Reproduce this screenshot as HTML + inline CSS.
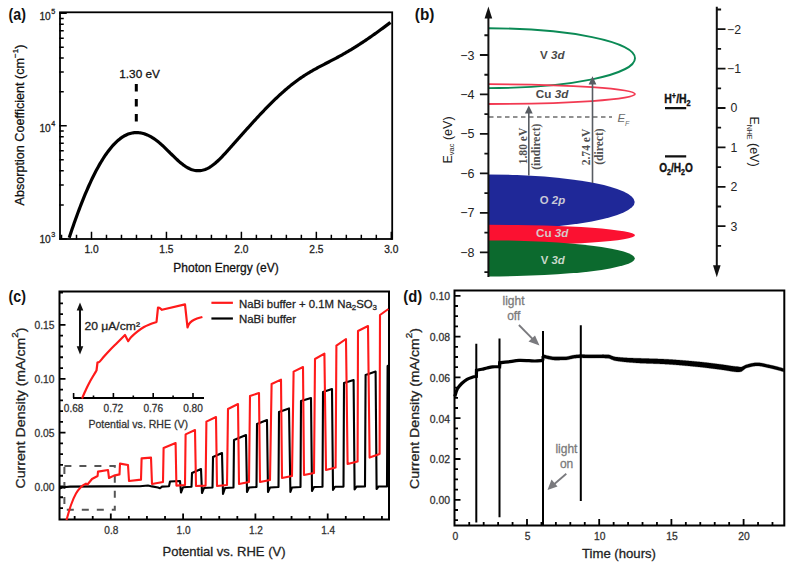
<!DOCTYPE html><html><head><meta charset="utf-8"><style>html,body{margin:0;padding:0;background:#fff;width:790px;height:565px;overflow:hidden}svg{display:block}</style></head><body>
<svg width="790" height="565" viewBox="0 0 790 565" font-family="Liberation Sans, sans-serif">
<rect width="790" height="565" fill="#fff"/>
<g stroke="#000" fill="none" stroke-linecap="square">
<rect x="60" y="12.3" width="332.2" height="226.7" stroke-width="1.8"/>
<path d="M61.52,239 V235.5 M76.51,239 V235.5 M91.5,239 V232.5 M106.49,239 V235.5 M121.48,239 V235.5 M136.47,239 V235.5 M151.46,239 V235.5 M166.45,239 V232.5 M181.44,239 V235.5 M196.43,239 V235.5 M211.42,239 V235.5 M226.41,239 V235.5 M241.4,239 V232.5 M256.39,239 V235.5 M271.38,239 V235.5 M286.37,239 V235.5 M301.36,239 V235.5 M316.35,239 V232.5 M331.34,239 V235.5 M346.33,239 V235.5 M361.32,239 V235.5 M376.31,239 V235.5 M391.3,239 V232.5 M60,239 H66 M60,204.89 H63 M60,184.94 H63 M60,170.79 H63 M60,159.81 H63 M60,150.84 H63 M60,143.25 H63 M60,136.68 H63 M60,130.88 H63 M60,125.7 H66 M60,91.86 H63 M60,72.07 H63 M60,58.03 H63 M60,47.14 H63 M60,38.24 H63 M60,30.71 H63 M60,24.19 H63 M60,18.44 H63 M60,13.3 H66" stroke-width="1.5"/>
</g>
<path d="M69.2,237.81 L70.2,234.79 L71.2,231.81 L72.2,228.86 L73.2,225.96 L74.2,223.09 L75.2,220.26 L76.2,217.47 L77.2,214.72 L78.2,212.02 L79.2,209.35 L80.2,206.72 L81.2,204.14 L82.2,201.6 L83.2,199.1 L84.2,196.64 L85.2,194.23 L86.2,191.86 L87.2,189.53 L88.2,187.25 L89.2,185.01 L90.2,182.81 L91.2,180.66 L92.2,178.56 L93.2,176.5 L94.2,174.49 L95.2,172.53 L96.2,170.61 L97.2,168.74 L98.2,166.91 L99.2,165.13 L100.2,163.4 L101.2,161.71 L102.2,160.07 L103.2,158.48 L104.2,156.94 L105.2,155.44 L106.2,153.99 L107.2,152.58 L108.2,151.22 L109.2,149.91 L110.2,148.65 L111.2,147.44 L112.2,146.27 L113.2,145.15 L114.2,144.07 L115.2,143.05 L116.2,142.07 L117.2,141.14 L118.2,140.26 L119.2,139.43 L120.2,138.64 L121.2,137.91 L122.2,137.22 L123.2,136.58 L124.2,135.98 L125.2,135.44 L126.2,134.95 L127.2,134.5 L128.2,134.1 L129.2,133.75 L130.2,133.44 L131.2,133.19 L132.2,132.97 L133.2,132.8 L134.2,132.68 L135.2,132.6 L136.2,132.57 L137.2,132.58 L138.2,132.63 L139.2,132.72 L140.2,132.85 L141.2,133.03 L142.2,133.24 L143.2,133.5 L144.2,133.8 L145.2,134.13 L146.2,134.5 L147.2,134.91 L148.2,135.36 L149.2,135.85 L150.2,136.37 L151.2,136.92 L152.2,137.52 L153.2,138.14 L154.2,138.8 L155.2,139.5 L156.2,140.23 L157.2,140.99 L158.2,141.78 L159.2,142.61 L160.2,143.46 L161.2,144.34 L162.2,145.25 L163.2,146.17 L164.2,147.12 L165.2,148.07 L166.2,149.05 L167.2,150.03 L168.2,151.02 L169.2,152.01 L170.2,153.01 L171.2,154 L172.2,154.99 L173.2,155.97 L174.2,156.95 L175.2,157.91 L176.2,158.86 L177.2,159.79 L178.2,160.7 L179.2,161.58 L180.2,162.44 L181.2,163.27 L182.2,164.07 L183.2,164.84 L184.2,165.56 L185.2,166.25 L186.2,166.9 L187.2,167.5 L188.2,168.05 L189.2,168.55 L190.2,169 L191.2,169.39 L192.2,169.74 L193.2,170.03 L194.2,170.27 L195.2,170.46 L196.2,170.6 L197.2,170.68 L198.2,170.71 L199.2,170.69 L200.2,170.61 L201.2,170.48 L202.2,170.3 L203.2,170.06 L204.2,169.78 L205.2,169.43 L206.2,169.04 L207.2,168.59 L208.2,168.08 L209.2,167.53 L210.2,166.92 L211.2,166.26 L212.2,165.56 L213.2,164.81 L214.2,164.02 L215.2,163.2 L216.2,162.33 L217.2,161.44 L218.2,160.51 L219.2,159.55 L220.2,158.56 L221.2,157.56 L222.2,156.52 L223.2,155.47 L224.2,154.41 L225.2,153.33 L226.2,152.23 L227.2,151.13 L228.2,150.02 L229.2,148.9 L230.2,147.78 L231.2,146.66 L232.2,145.54 L233.2,144.42 L234.2,143.29 L235.2,142.17 L236.2,141.04 L237.2,139.92 L238.2,138.79 L239.2,137.66 L240.2,136.53 L241.2,135.41 L242.2,134.28 L243.2,133.16 L244.2,132.03 L245.2,130.91 L246.2,129.79 L247.2,128.68 L248.2,127.56 L249.2,126.45 L250.2,125.34 L251.2,124.23 L252.2,123.13 L253.2,122.03 L254.2,120.93 L255.2,119.84 L256.2,118.75 L257.2,117.67 L258.2,116.59 L259.2,115.52 L260.2,114.45 L261.2,113.39 L262.2,112.33 L263.2,111.28 L264.2,110.24 L265.2,109.2 L266.2,108.17 L267.2,107.15 L268.2,106.13 L269.2,105.12 L270.2,104.12 L271.2,103.12 L272.2,102.13 L273.2,101.16 L274.2,100.18 L275.2,99.22 L276.2,98.27 L277.2,97.32 L278.2,96.38 L279.2,95.45 L280.2,94.53 L281.2,93.62 L282.2,92.72 L283.2,91.83 L284.2,90.95 L285.2,90.08 L286.2,89.22 L287.2,88.36 L288.2,87.52 L289.2,86.69 L290.2,85.87 L291.2,85.07 L292.2,84.27 L293.2,83.49 L294.2,82.71 L295.2,81.95 L296.2,81.2 L297.2,80.46 L298.2,79.74 L299.2,79.03 L300.2,78.33 L301.2,77.64 L302.2,76.96 L303.2,76.3 L304.2,75.65 L305.2,75.01 L306.2,74.38 L307.2,73.76 L308.2,73.15 L309.2,72.54 L310.2,71.95 L311.2,71.37 L312.2,70.79 L313.2,70.22 L314.2,69.65 L315.2,69.1 L316.2,68.55 L317.2,68 L318.2,67.46 L319.2,66.92 L320.2,66.39 L321.2,65.86 L322.2,65.34 L323.2,64.82 L324.2,64.3 L325.2,63.78 L326.2,63.26 L327.2,62.74 L328.2,62.23 L329.2,61.71 L330.2,61.19 L331.2,60.67 L332.2,60.16 L333.2,59.63 L334.2,59.11 L335.2,58.58 L336.2,58.05 L337.2,57.52 L338.2,56.98 L339.2,56.44 L340.2,55.89 L341.2,55.34 L342.2,54.78 L343.2,54.22 L344.2,53.65 L345.2,53.07 L346.2,52.49 L347.2,51.91 L348.2,51.32 L349.2,50.72 L350.2,50.12 L351.2,49.52 L352.2,48.91 L353.2,48.29 L354.2,47.67 L355.2,47.05 L356.2,46.42 L357.2,45.79 L358.2,45.15 L359.2,44.51 L360.2,43.86 L361.2,43.21 L362.2,42.55 L363.2,41.89 L364.2,41.23 L365.2,40.56 L366.2,39.88 L367.2,39.21 L368.2,38.52 L369.2,37.84 L370.2,37.15 L371.2,36.46 L372.2,35.76 L373.2,35.06 L374.2,34.35 L375.2,33.65 L376.2,32.93 L377.2,32.22 L378.2,31.5 L379.2,30.78 L380.2,30.05 L381.2,29.32 L382.2,28.59 L383.2,27.85 L384.2,27.11 L385.2,26.37 L386.2,25.63 L387.2,24.88 L388.2,24.13 L389.2,23.38 L390.2,22.63 L390.5,22.4" fill="none" stroke="#000" stroke-width="3.2" stroke-linejoin="round"/>
<path d="M136.3,84 V122" stroke="#000" stroke-width="3" stroke-dasharray="7.5 7.5"/>
<text x="139.6" y="77.9" font-size="11.8" text-anchor="middle" fill="#111" stroke="#111" stroke-width="0.28">1.30 eV</text>
<text x="91.5" y="253" font-size="10.2" text-anchor="middle" fill="#222" stroke="#222" stroke-width="0.28">1.0</text>
<text x="166.45" y="253" font-size="10.2" text-anchor="middle" fill="#222" stroke="#222" stroke-width="0.28">1.5</text>
<text x="241.4" y="253" font-size="10.2" text-anchor="middle" fill="#222" stroke="#222" stroke-width="0.28">2.0</text>
<text x="316.35" y="253" font-size="10.2" text-anchor="middle" fill="#222" stroke="#222" stroke-width="0.28">2.5</text>
<text x="391.3" y="253" font-size="10.2" text-anchor="middle" fill="#222" stroke="#222" stroke-width="0.28">3.0</text>
<text x="50.8" y="243.3" font-size="10.2" text-anchor="end" fill="#222" stroke="#222" stroke-width="0.28">10</text>
<text x="51.2" y="237.3" font-size="7.2" fill="#222" stroke="#222" stroke-width="0.28">3</text>
<text x="50.8" y="131.5" font-size="10.2" text-anchor="end" fill="#222" stroke="#222" stroke-width="0.28">10</text>
<text x="51.2" y="125.5" font-size="7.2" fill="#222" stroke="#222" stroke-width="0.28">4</text>
<text x="50.8" y="20" font-size="10.2" text-anchor="end" fill="#222" stroke="#222" stroke-width="0.28">10</text>
<text x="51.2" y="14" font-size="7.2" fill="#222" stroke="#222" stroke-width="0.28">5</text>
<text x="226" y="271.8" font-size="12" text-anchor="middle" fill="#111" stroke="#111" stroke-width="0.28">Photon Energy (eV)</text>
<text transform="translate(24.3,125) rotate(-90)" font-size="12.6" text-anchor="middle" fill="#111" stroke="#111" stroke-width="0.28">Absorption Coefficient (cm<tspan font-size="8" dy="-6">−1</tspan><tspan dy="6">)</tspan></text>
<text transform="translate(8.6,20.3) scale(0.86,1)" font-size="16.5" font-weight="bold" fill="#111">(a)</text>
<path d="M488.4,28.3 A146.6,29.9 0 0 1 488.4,88.1" fill="none" stroke="#0b8a55" stroke-width="1.9"/>
<path d="M488.4,84.2 A146.6,9.9 0 0 1 488.4,104" fill="none" stroke="#f23a52" stroke-width="1.8"/>
<path d="M488.4,174.5 A146.3,27.5 0 0 1 488.4,229.5 Z" fill="#1f2898"/>
<path d="M488.4,224.8 A146.6,10.4 0 0 1 488.4,245.6 Z" fill="#fb1131"/>
<path d="M488.4,240.4 A146.4,18 0 0 1 488.4,276.4 Z" fill="#0c6a2e"/>
<path d="M489,117 H612" stroke="#6e6e6e" stroke-width="1.4" stroke-dasharray="4.5 3.5"/>
<text x="617.5" y="121.5" font-size="11.5" font-style="italic" fill="#6a6a6a">E</text>
<text x="625" y="126.3" font-size="7" font-style="italic" fill="#6a6a6a">F</text>
<path d="M528.8,175.5 V112.6" stroke="#585c62" stroke-width="1.6"/><path d="M528.8,105.4 L524.9,113.6 L532.7,113.6 Z" fill="#585c62"/>
<path d="M592.5,183 V83.4" stroke="#585c62" stroke-width="1.6"/><path d="M592.5,76.2 L588.6,84.4 L596.4,84.4 Z" fill="#585c62"/>
<text transform="translate(526.7,146) rotate(-90)" font-family="Liberation Serif, serif" font-size="11.6" font-weight="bold" text-anchor="middle" fill="#505050">1.80 eV</text>
<text transform="translate(540.2,146.7) rotate(-90)" font-family="Liberation Serif, serif" font-size="11.6" font-weight="bold" text-anchor="middle" fill="#505050">(indirect)</text>
<text transform="translate(589.5,147) rotate(-90)" font-family="Liberation Serif, serif" font-size="11.6" font-weight="bold" text-anchor="middle" fill="#505050">2.74 eV</text>
<text transform="translate(603,146.6) rotate(-90)" font-family="Liberation Serif, serif" font-size="11.6" font-weight="bold" text-anchor="middle" fill="#505050">(direct)</text>
<text x="552.3" y="58.8" font-size="11.6" font-weight="bold" text-anchor="middle" fill="#4a4a4a">V <tspan font-style="italic">3d</tspan></text>
<text x="552.1" y="98.2" font-size="11.7" font-weight="bold" text-anchor="middle" fill="#4a4a4a">Cu <tspan font-style="italic">3d</tspan></text>
<text x="552.5" y="204.3" font-size="11.4" font-weight="bold" text-anchor="middle" fill="#c9c9d6">O <tspan font-style="italic">2p</tspan></text>
<text x="552.2" y="237.3" font-size="11.7" font-weight="bold" text-anchor="middle" fill="#d8c8c8">Cu <tspan font-style="italic">3d</tspan></text>
<text x="552.7" y="263.5" font-size="11.4" font-weight="bold" text-anchor="middle" fill="#c8d8cc">V <tspan font-style="italic">3d</tspan></text>
<path d="M488.4,277 V17" stroke="#111" stroke-width="2"/>
<path d="M488.4,6.5 L484.6,18.5 L492.2,18.5 Z" fill="#111"/>
<path d="M488.4,272.08 H484.4 M488.4,252.35 H479.9 M488.4,232.62 H484.4 M488.4,212.88 H479.9 M488.4,193.14 H484.4 M488.4,173.41 H479.9 M488.4,153.68 H484.4 M488.4,133.94 H479.9 M488.4,114.2 H484.4 M488.4,94.47 H479.9 M488.4,74.73 H484.4 M488.4,55 H479.9 M488.4,35.27 H484.4" stroke="#111" stroke-width="1.8"/>
<text x="474.5" y="59.5" font-size="12.5" text-anchor="end" fill="#232323">−3</text>
<text x="474.5" y="98.97" font-size="12.5" text-anchor="end" fill="#232323">−4</text>
<text x="474.5" y="138.44" font-size="12.5" text-anchor="end" fill="#232323">−5</text>
<text x="474.5" y="177.91" font-size="12.5" text-anchor="end" fill="#232323">−6</text>
<text x="474.5" y="217.38" font-size="12.5" text-anchor="end" fill="#232323">−7</text>
<text x="474.5" y="256.85" font-size="12.5" text-anchor="end" fill="#232323">−8</text>
<text transform="translate(451.5,140) rotate(-90)" font-size="12.5" text-anchor="middle" fill="#232323">E<tspan font-size="7.5" dy="2.5">vac</tspan><tspan dy="-2.5"> (eV)</tspan></text>
<text transform="translate(414.8,20.3) scale(0.93,1)" font-size="16.5" font-weight="bold" fill="#111">(b)</text>
<path d="M716.8,6.8 V266" stroke="#111" stroke-width="2"/>
<path d="M716.8,277.2 L713,265.2 L720.6,265.2 Z" fill="#111"/>
<path d="M716.8,9.5 H721.1 M716.8,29.2 H725.5 M716.8,48.9 H721.1 M716.8,68.6 H725.5 M716.8,88.3 H721.1 M716.8,108 H725.5 M716.8,127.7 H721.1 M716.8,147.4 H725.5 M716.8,167.1 H721.1 M716.8,186.8 H725.5 M716.8,206.5 H721.1 M716.8,226.2 H725.5 M716.8,245.9 H721.1" stroke="#111" stroke-width="1.8"/>
<text x="734" y="33.5" font-size="12.3" text-anchor="middle" fill="#232323">−2</text>
<text x="734" y="72.9" font-size="12.3" text-anchor="middle" fill="#232323">−1</text>
<text x="734" y="112.3" font-size="12.3" text-anchor="middle" fill="#232323">0</text>
<text x="734" y="151.7" font-size="12.3" text-anchor="middle" fill="#232323">1</text>
<text x="734" y="191.1" font-size="12.3" text-anchor="middle" fill="#232323">2</text>
<text x="734" y="230.5" font-size="12.3" text-anchor="middle" fill="#232323">3</text>
<text transform="translate(749.5,141.5) rotate(90)" font-size="12.5" text-anchor="middle" fill="#232323">E<tspan font-size="7" dy="2.5">NHE</tspan><tspan dy="-2.5"> (eV)</tspan></text>
<path d="M665,108.2 H686.2 M665,156.4 H686.2" stroke="#111" stroke-width="2.2"/>
<text transform="translate(664.3,102.8) scale(0.8,1)" font-size="12.2" font-weight="bold" fill="#111" stroke="#111" stroke-width="0.35" textLength="33" lengthAdjust="spacingAndGlyphs">H<tspan font-size="8.5" dy="-4">+</tspan><tspan dy="4">/H</tspan><tspan font-size="8.5" dy="3.5">2</tspan></text>
<text transform="translate(659.2,171.8) scale(0.8,1)" font-size="12.2" font-weight="bold" fill="#111" stroke="#111" stroke-width="0.35" textLength="42" lengthAdjust="spacingAndGlyphs">O<tspan font-size="8.5" dy="3.5">2</tspan><tspan dy="-3.5">/H</tspan><tspan font-size="8.5" dy="3.5">2</tspan><tspan dy="-3.5">O</tspan></text>
<g stroke="#000" fill="none">
<rect x="59.5" y="291.5" width="329.5" height="228" stroke-width="2"/>
<path d="M74.65,519.5 V516 M92.72,519.5 V516 M110.8,519.5 V513.5 M128.88,519.5 V516 M146.95,519.5 V516 M165.03,519.5 V516 M183.1,519.5 V513.5 M201.18,519.5 V516 M219.25,519.5 V516 M237.33,519.5 V516 M255.4,519.5 V513.5 M273.47,519.5 V516 M291.55,519.5 V516 M309.62,519.5 V516 M327.7,519.5 V513.5 M345.78,519.5 V516 M363.85,519.5 V516 M381.93,519.5 V516 M59.5,508.04 H63 M59.5,497.27 H63 M59.5,486.5 H65.5 M59.5,475.73 H63 M59.5,464.96 H63 M59.5,454.19 H63 M59.5,443.42 H63 M59.5,432.65 H65.5 M59.5,421.88 H63 M59.5,411.11 H63 M59.5,400.34 H63 M59.5,389.57 H63 M59.5,378.8 H65.5 M59.5,368.03 H63 M59.5,357.26 H63 M59.5,346.49 H63 M59.5,335.72 H63 M59.5,324.95 H65.5 M59.5,314.18 H63 M59.5,303.41 H63 M59.5,292.64 H63" stroke-width="1.8"/>
</g>
<rect x="64.4" y="466.1" width="50.4" height="43.6" fill="none" stroke="#555" stroke-width="2" stroke-dasharray="7 8"/>
<path d="M59.5,488.5 L63,487.2 L70,486.6 L100,486.4 L140,486.2 L148,485.5 L152,486.4 L158,487.5 L160,488.2 L162,486.6 L169,486.3 L170,481.5 L180,481 L181,492.5 L183,487.3 L191.5,486.8 L192,473 L201,469 L202,493 L204,488 L212.5,487.5 L213,457 L222,453 L223,494 L225,488 L233.5,487.5 L234,440 L246,435 L247,492 L249,487.5 L256.5,487 L257,424 L267,420 L268,492 L270,487.5 L278.5,487 L279,412 L289,408.4 L290.4,492 L292,487.5 L300.5,487 L301,401 L311,398 L312,491 L314,487 L322.5,486.8 L323,392 L332,389 L333,490 L335,486.8 L343.5,486.6 L344,383 L353.6,380 L354.6,489.5 L356.5,486.6 L365,486.5 L365.6,375 L375.6,371.6 L376.6,489 L378.5,486.5 L387,486.5 L387.6,366 L389,365" fill="none" stroke="#000" stroke-width="2.1" stroke-linejoin="round"/>
<path d="M66.5,520 C67.25,517.5 69.42,509.4 71,505 C72.58,500.6 74.33,496.6 76,493.6 C77.67,490.6 79.33,488.67 81,487 C82.67,485.33 85.17,484.17 86,483.6 L87.5,484.5 L92,479 L97.6,476 L98,471.6 L108,470 L109,478 L114,475.6 L119.5,474.4 L120,463.6 L128,465 L129,481 L141,479.6 L141.6,458.4 L151,457.6 L152,484 L163,482 L163.6,448 L175.6,443 L176.4,485.6 L185,485 L185.6,434.4 L195,430 L196,486 L205.6,485.6 L206.4,421.6 L216,417 L217,486 L227,485 L228,409 L238,404 L239,484 L249,482 L250,396 L259,393 L260,482 L270,480 L271.6,384 L281,379.6 L282,478 L292,476 L293.6,371.6 L303,367 L304,475 L314,473 L315,359 L324.4,353.6 L326,470 L335.6,467.6 L336.4,345.6 L346,339 L347.6,464 L357.6,461.6 L358,331 L368,326 L369.6,457.6 L379.6,454 L380,315 L388.4,309" fill="none" stroke="#ff1a1a" stroke-width="2.1" stroke-linejoin="round"/>
<rect x="68" y="296" width="140" height="112" fill="#fff"/>
<path d="M73,398 H204" stroke="#000" stroke-width="2"/>
<path d="M73.6,398 V393 M93.5,398 V395.5 M113.4,398 V393 M133.3,398 V395.5 M153.2,398 V393 M173.1,398 V395.5 M193,398 V393" stroke="#000" stroke-width="1.6"/>
<path d="M82,398.5 C82.6,397.15 84.8,392.05 86,389.5 C87.2,386.95 88.88,383.6 90,381.5 C91.12,379.4 92.53,377.15 93.5,375.5 C94.47,373.85 96.05,371.25 96.5,370.5 L97.5,362.5 C97.8,362.39 98.53,362.7 99.5,361.8 C100.47,360.9 102.42,358.27 104,356.5 C105.58,354.73 108.05,352.02 110,350 C111.95,347.98 114.75,345.25 117,343 C119.25,340.75 123.8,336.2 125,335 L128.2,341.2 C128.62,340.6 129.68,338.61 131,337.2 C132.32,335.79 135.05,333.33 137,331.8 C138.95,330.27 142.05,328.12 144,327 C145.95,325.88 148.12,325.05 150,324.3 C151.88,323.55 155.53,322.35 156.5,322 L158,307.6 L159.5,307.8 L162,309.8 L185,304.4 L187.5,327.5 C187.72,326.98 188.32,324.98 189,324 C189.68,323.02 190.8,321.82 192,321 C193.2,320.18 195.44,319.1 197,318.5 C198.56,317.9 201.59,317.23 202.4,317" fill="none" stroke="#ff1a1a" stroke-width="2.2" stroke-linejoin="round"/>
<path d="M80,310 V347" stroke="#111" stroke-width="2"/>
<path d="M80,302.4 L76.7,310.5 L83.3,310.5 Z M80,354.4 L76.7,346.3 L83.3,346.3 Z" fill="#111"/>
<text x="84.4" y="330" font-size="11.3" fill="#222" textLength="55.6" lengthAdjust="spacingAndGlyphs" stroke="#222" stroke-width="0.28">20 μA/cm²</text>
<text x="73.6" y="411.7" font-size="10" text-anchor="middle" fill="#333" textLength="19.6" lengthAdjust="spacingAndGlyphs" stroke="#333" stroke-width="0.28">0.68</text>
<text x="113.4" y="411.7" font-size="10" text-anchor="middle" fill="#333" textLength="19.6" lengthAdjust="spacingAndGlyphs" stroke="#333" stroke-width="0.28">0.72</text>
<text x="153.2" y="411.7" font-size="10" text-anchor="middle" fill="#333" textLength="19.6" lengthAdjust="spacingAndGlyphs" stroke="#333" stroke-width="0.28">0.76</text>
<text x="193" y="411.7" font-size="10" text-anchor="middle" fill="#333" textLength="19.6" lengthAdjust="spacingAndGlyphs" stroke="#333" stroke-width="0.28">0.80</text>
<text x="88.4" y="428" font-size="11" fill="#333" textLength="99.6" lengthAdjust="spacingAndGlyphs" stroke="#333" stroke-width="0.28">Potential vs. RHE (V)</text>
<path d="M211.4,302.8 H232.9" stroke="#ff1a1a" stroke-width="2.2"/><path d="M211.4,318.5 H232.9" stroke="#000" stroke-width="2.2"/>
<text x="239" y="307.5" font-size="11.5" fill="#222" textLength="138" lengthAdjust="spacingAndGlyphs" stroke="#222" stroke-width="0.28">NaBi buffer + 0.1M Na<tspan font-size="8" dy="2.5">2</tspan><tspan dy="-2.5">SO</tspan><tspan font-size="8" dy="2.5">3</tspan></text>
<text x="239" y="323" font-size="11.5" fill="#222" textLength="57" lengthAdjust="spacingAndGlyphs" stroke="#222" stroke-width="0.28">NaBi buffer</text>
<text x="54.5" y="490.8" font-size="10.3" text-anchor="end" fill="#333" textLength="20" lengthAdjust="spacingAndGlyphs" stroke="#333" stroke-width="0.28">0.00</text>
<text x="54.5" y="436.95" font-size="10.3" text-anchor="end" fill="#333" textLength="20" lengthAdjust="spacingAndGlyphs" stroke="#333" stroke-width="0.28">0.05</text>
<text x="54.5" y="383.1" font-size="10.3" text-anchor="end" fill="#333" textLength="20" lengthAdjust="spacingAndGlyphs" stroke="#333" stroke-width="0.28">0.10</text>
<text x="54.5" y="329.25" font-size="10.3" text-anchor="end" fill="#333" textLength="20" lengthAdjust="spacingAndGlyphs" stroke="#333" stroke-width="0.28">0.15</text>
<text x="111.3" y="533.5" font-size="10.3" text-anchor="middle" fill="#333" textLength="14" lengthAdjust="spacingAndGlyphs" stroke="#333" stroke-width="0.28">0.8</text>
<text x="183.6" y="533.5" font-size="10.3" text-anchor="middle" fill="#333" textLength="14" lengthAdjust="spacingAndGlyphs" stroke="#333" stroke-width="0.28">1.0</text>
<text x="255.9" y="533.5" font-size="10.3" text-anchor="middle" fill="#333" textLength="14" lengthAdjust="spacingAndGlyphs" stroke="#333" stroke-width="0.28">1.2</text>
<text x="328.2" y="533.5" font-size="10.3" text-anchor="middle" fill="#333" textLength="14" lengthAdjust="spacingAndGlyphs" stroke="#333" stroke-width="0.28">1.4</text>
<text x="162.5" y="555.5" font-size="12.8" fill="#222" textLength="123" lengthAdjust="spacingAndGlyphs" stroke="#222" stroke-width="0.28">Potential vs. RHE (V)</text>
<text transform="translate(25,488.5) rotate(-90)" font-size="13" fill="#222" textLength="161" lengthAdjust="spacingAndGlyphs" stroke="#222" stroke-width="0.28">Current Density (mA/cm<tspan font-size="9" dy="-7.5">2</tspan><tspan dy="7.5">)</tspan></text>
<text transform="translate(8.6,301.6) scale(0.86,1)" font-size="16.5" font-weight="bold" fill="#111">(c)</text>
<g stroke="#000" fill="none">
<rect x="454.5" y="290.5" width="329.8" height="235" stroke-width="2"/>
<path d="M469.24,525.5 V522 M483.68,525.5 V522 M498.12,525.5 V522 M512.56,525.5 V522 M527,525.5 V519 M541.44,525.5 V522 M555.88,525.5 V522 M570.32,525.5 V522 M584.76,525.5 V522 M599.2,525.5 V519 M613.64,525.5 V522 M628.08,525.5 V522 M642.52,525.5 V522 M656.96,525.5 V522 M671.4,525.5 V519 M685.84,525.5 V522 M700.28,525.5 V522 M714.72,525.5 V522 M729.16,525.5 V522 M743.6,525.5 V519 M758.04,525.5 V522 M772.48,525.5 V522 M454.5,520.2 H458 M454.5,510 H458 M454.5,499.8 H460.5 M454.5,489.6 H458 M454.5,479.4 H458 M454.5,469.2 H458 M454.5,459 H460.5 M454.5,448.8 H458 M454.5,438.6 H458 M454.5,428.4 H458 M454.5,418.2 H460.5 M454.5,408 H458 M454.5,397.8 H458 M454.5,387.6 H458 M454.5,377.4 H460.5 M454.5,367.2 H458 M454.5,357 H458 M454.5,346.8 H458 M454.5,336.6 H460.5 M454.5,326.4 H458 M454.5,316.2 H458 M454.5,306 H458 M454.5,295.8 H460.5" stroke-width="1.8"/>
</g>
<path d="M476.3,343.7 V522.5 M499.5,338.6 V517.3 M543,331 V525 M580.8,325.3 V501" stroke="#000" stroke-width="2"/>
<path d="M454.8,396.5 C455.19,395.35 456.37,390.75 457.4,388.8 C458.43,386.85 460.26,384.93 461.7,383.5 C463.14,382.07 465.41,380.25 467,379.3 C468.59,378.36 470.89,377.63 472.3,377.2 C473.71,376.76 475.78,376.52 476.4,376.4 L476.5,370.3 C477.31,370.13 480.32,369.55 481.9,369.2 C483.47,368.85 485.41,368.36 487,368 C488.59,367.64 490.61,366.98 492.5,366.8 C494.39,366.62 498.54,366.8 499.6,366.8 L499.7,362.8 C501,362.65 505.5,362.16 508.4,361.8 C511.29,361.44 515.91,360.56 519,360.4 C522.09,360.23 526.6,360.61 529,360.7 C531.4,360.79 532.91,361.03 535,361 C537.09,360.97 541.72,360.57 542.9,360.5" fill="none" stroke="#000" stroke-width="3.2" stroke-linejoin="miter"/>
<path d="M476.4,376.4 L476.5,370.3 M499.6,366.8 L499.7,362.8 M542.9,360.5 L543,356" stroke="#000" stroke-width="3"/>
<path d="M543,354.35 L543.5,354.51 L544,354.67 L544.5,354.82 L545,354.97 L545.5,355.11 L546,355.25 L546.5,355.38 L547,355.51 L547.5,355.63 L548,355.74 L548.5,355.85 L549,355.95 L549.5,356.05 L550,356.15 L550.5,356.25 L551,356.35 L551.5,356.45 L552,356.54 L552.5,356.63 L553,356.7 L553.5,356.76 L554,356.81 L554.5,356.84 L555,356.85 L555.5,356.85 L556,356.85 L556.5,356.85 L557,356.85 L557.5,356.84 L558,356.84 L558.5,356.84 L559,356.83 L559.5,356.83 L560,356.82 L560.5,356.82 L561,356.81 L561.5,356.81 L562,356.8 L562.5,356.79 L563,356.78 L563.5,356.78 L564,356.77 L564.5,356.76 L565,356.75 L565.5,356.73 L566,356.69 L566.5,356.64 L567,356.57 L567.5,356.49 L568,356.39 L568.5,356.29 L569,356.18 L569.5,356.06 L570,355.94 L570.5,355.82 L571,355.7 L571.5,355.58 L572,355.46 L572.5,355.35 L573,355.25 L573.5,355.16 L574,355.07 L574.5,355 L575,354.95 L575.5,354.9 L576,354.86 L576.5,354.81 L577,354.76 L577.5,354.72 L578,354.68 L578.5,354.64 L579,354.61 L579.5,354.59 L580,354.57 L580.5,354.55 L581,354.55 L581.5,354.55 L582,354.56 L582.5,354.56 L583,354.58 L583.5,354.59 L584,354.6 L584.5,354.62 L585,354.63 L585.5,354.65 L586,354.67 L586.5,354.68 L587,354.7 L587.5,354.71 L588,354.72 L588.5,354.74 L589,354.74 L589.5,354.75 L590,354.75 L590.5,354.75 L591,354.75 L591.5,354.74 L592,354.74 L592.5,354.73 L593,354.73 L593.5,354.72 L594,354.71 L594.5,354.71 L595,354.7 L595.5,354.69 L596,354.69 L596.5,354.68 L597,354.67 L597.5,354.67 L598,354.66 L598.5,354.66 L599,354.65 L599.5,354.65 L600,354.65 L600.5,354.64 L601,354.63 L601.5,354.63 L602,354.63 L602.5,354.62 L603,354.62 L603.5,354.62 L604,354.63 L604.5,354.63 L605,354.64 L605.5,354.64 L606,354.65 L606.5,354.66 L607,354.67 L607.5,354.69 L608,354.7 L608.5,354.74 L609,354.82 L609.5,354.94 L610,355.09 L610.5,355.27 L611,355.46 L611.5,355.67 L612,355.88 L612.5,356.08 L613,356.27 L613.5,356.45 L614,356.61 L614.5,356.73 L615,356.82 L615.5,356.88 L616,356.95 L616.5,357.01 L617,357.07 L617.5,357.12 L618,357.18 L618.5,357.23 L619,357.28 L619.5,357.33 L620,357.37 L620.5,357.42 L621,357.46 L621.5,357.5 L622,357.54 L622.5,357.58 L623,357.62 L623.5,357.65 L624,357.69 L624.5,357.72 L625,357.75 L625.5,357.78 L626,357.81 L626.5,357.84 L627,357.86 L627.5,357.89 L628,357.91 L628.5,357.94 L629,357.96 L629.5,357.98 L630,358 L630.5,358.02 L631,358.04 L631.5,358.06 L632,358.08 L632.5,358.1 L633,358.12 L633.5,358.14 L634,358.16 L634.5,358.18 L635,358.19 L635.5,358.21 L636,358.23 L636.5,358.24 L637,358.26 L637.5,358.27 L638,358.29 L638.5,358.3 L639,358.31 L639.5,358.32 L640,358.34 L640.5,358.35 L641,358.37 L641.5,358.39 L642,358.41 L642.5,358.43 L643,358.44 L643.5,358.46 L644,358.47 L644.5,358.49 L645,358.5 L645.5,358.52 L646,358.53 L646.5,358.55 L647,358.56 L647.5,358.58 L648,358.59 L648.5,358.61 L649,358.62 L649.5,358.63 L650,358.65 L650.5,358.66 L651,358.67 L651.5,358.69 L652,358.7 L652.5,358.72 L653,358.73 L653.5,358.74 L654,358.76 L654.5,358.77 L655,358.79 L655.5,358.8 L656,358.82 L656.5,358.83 L657,358.85 L657.5,358.87 L658,358.88 L658.5,358.9 L659,358.92 L659.5,358.94 L660,358.96 L660.5,358.98 L661,359 L661.5,359.02 L662,359.04 L662.5,359.06 L663,359.08 L663.5,359.1 L664,359.13 L664.5,359.15 L665,359.18 L665.5,359.2 L666,359.23 L666.5,359.25 L667,359.28 L667.5,359.31 L668,359.34 L668.5,359.36 L669,359.39 L669.5,359.42 L670,359.45 L670.5,359.48 L671,359.51 L671.5,359.55 L672,359.58 L672.5,359.61 L673,359.64 L673.5,359.68 L674,359.71 L674.5,359.75 L675,359.78 L675.5,359.82 L676,359.85 L676.5,359.89 L677,359.92 L677.5,359.96 L678,360 L678.5,360.04 L679,360.07 L679.5,360.11 L680,360.15 L680.5,360.19 L681,360.23 L681.5,360.27 L682,360.31 L682.5,360.35 L683,360.39 L683.5,360.43 L684,360.47 L684.5,360.51 L685,360.56 L685.5,360.6 L686,360.64 L686.5,360.68 L687,360.73 L687.5,360.77 L688,360.81 L688.5,360.86 L689,360.9 L689.5,360.95 L690,360.99 L690.5,361.03 L691,361.08 L691.5,361.12 L692,361.17 L692.5,361.22 L693,361.26 L693.5,361.31 L694,361.35 L694.5,361.4 L695,361.45 L695.5,361.49 L696,361.54 L696.5,361.59 L697,361.63 L697.5,361.68 L698,361.73 L698.5,361.77 L699,361.82 L699.5,361.87 L700,361.92 L700.5,361.96 L701,362.01 L701.5,362.06 L702,362.11 L702.5,362.17 L703,362.22 L703.5,362.27 L704,362.33 L704.5,362.38 L705,362.44 L705.5,362.5 L706,362.55 L706.5,362.61 L707,362.67 L707.5,362.73 L708,362.79 L708.5,362.85 L709,362.91 L709.5,362.97 L710,363.03 L710.5,363.09 L711,363.15 L711.5,363.21 L712,363.27 L712.5,363.34 L713,363.4 L713.5,363.46 L714,363.52 L714.5,363.58 L715,363.65 L715.5,363.71 L716,363.77 L716.5,363.83 L717,363.89 L717.5,363.95 L718,364.02 L718.5,364.08 L719,364.14 L719.5,364.2 L720,364.26 L720.5,364.32 L721,364.38 L721.5,364.45 L722,364.51 L722.5,364.58 L723,364.66 L723.5,364.73 L724,364.81 L724.5,364.88 L725,364.96 L725.5,365.04 L726,365.12 L726.5,365.2 L727,365.28 L727.5,365.36 L728,365.44 L728.5,365.52 L729,365.6 L729.5,365.68 L730,365.75 L730.5,365.83 L731,365.9 L731.5,365.97 L732,366.04 L732.5,366.11 L733,366.17 L733.5,366.24 L734,366.3 L734.5,366.35 L735,366.4 L735.5,366.45 L736,366.5 L736.5,366.54 L737,366.58 L737.5,366.61 L738,366.63 L738.5,366.72 L739,366.81 L739.5,366.89 L740,366.96 L740.5,367.03 L741,367.03 L741.5,366.95 L742,366.8 L742.5,366.6 L743,366.36 L743.5,366.09 L744,365.82 L744.5,365.54 L745,365.28 L745.5,365.05 L746,364.87 L746.5,364.68 L747,364.54 L747.5,364.39 L748,364.25 L748.5,364.12 L749,363.98 L749.5,363.85 L750,363.72 L750.5,363.59 L751,363.47 L751.5,363.36 L752,363.25 L752.5,363.15 L753,363.06 L753.5,362.97 L754,362.89 L754.5,362.83 L755,362.77 L755.5,362.72 L756,362.69 L756.5,362.66 L757,362.65 L757.5,362.65 L758,362.67 L758.5,362.69 L759,362.73 L759.5,362.78 L760,362.84 L760.5,362.91 L761,362.99 L761.5,363.07 L762,363.16 L762.5,363.26 L763,363.36 L763.5,363.47 L764,363.58 L764.5,363.7 L765,363.81 L765.5,363.93 L766,364.05 L766.5,364.16 L767,364.28 L767.5,364.39 L768,364.5 L768.5,364.61 L769,364.71 L769.5,364.82 L770,364.92 L770.5,365.03 L771,365.14 L771.5,365.26 L772,365.37 L772.5,365.49 L773,365.6 L773.5,365.72 L774,365.84 L774.5,365.97 L775,366.09 L775.5,366.22 L776,366.35 L776.5,366.48 L777,366.61 L777.5,366.74 L778,366.87 L778.5,367.01 L779,367.15 L779.5,367.29 L780,367.43 L780.5,367.57 L781,367.72 L781.5,367.86 L782,368.01 L782.5,368.16 L783,368.31 L783.5,368.46 L783.8,368.55 L783.8,371.85 L783.5,371.76 L783,371.61 L782.5,371.46 L782,371.31 L781.5,371.16 L781,371.02 L780.5,370.87 L780,370.73 L779.5,370.59 L779,370.45 L778.5,370.31 L778,370.17 L777.5,370.04 L777,369.91 L776.5,369.78 L776,369.65 L775.5,369.52 L775,369.39 L774.5,369.27 L774,369.14 L773.5,369.02 L773,368.9 L772.5,368.79 L772,368.67 L771.5,368.56 L771,368.44 L770.5,368.33 L770,368.22 L769.5,368.12 L769,368.01 L768.5,367.91 L768,367.8 L767.5,367.69 L767,367.58 L766.5,367.46 L766,367.35 L765.5,367.23 L765,367.11 L764.5,367 L764,366.88 L763.5,366.77 L763,366.66 L762.5,366.56 L762,366.46 L761.5,366.37 L761,366.29 L760.5,366.21 L760,366.14 L759.5,366.08 L759,366.03 L758.5,365.99 L758,365.97 L757.5,365.95 L757,365.95 L756.5,365.96 L756,365.99 L755.5,366.02 L755,366.07 L754.5,366.13 L754,366.19 L753.5,366.27 L753,366.36 L752.5,366.45 L752,366.55 L751.5,366.66 L751,366.77 L750.5,366.89 L750,367.02 L749.5,367.15 L749,367.28 L748.5,367.42 L748,367.55 L747.5,367.69 L747,367.84 L746.5,367.98 L746,368.17 L745.5,368.49 L745,368.85 L744.5,369.23 L744,369.64 L743.5,370.05 L743,370.45 L742.5,370.82 L742,371.15 L741.5,371.43 L741,371.64 L740.5,371.77 L740,371.84 L739.5,371.89 L739,371.95 L738.5,371.99 L738,372.03 L737.5,372 L737,371.97 L736.5,371.93 L736,371.89 L735.5,371.84 L735,371.79 L734.5,371.73 L734,371.67 L733.5,371.61 L733,371.54 L732.5,371.48 L732,371.41 L731.5,371.33 L731,371.26 L730.5,371.18 L730,371.1 L729.5,371.02 L729,370.94 L728.5,370.86 L728,370.78 L727.5,370.7 L727,370.61 L726.5,370.53 L726,370.45 L725.5,370.36 L725,370.28 L724.5,370.2 L724,370.12 L723.5,370.04 L723,369.97 L722.5,369.89 L722,369.82 L721.5,369.74 L721,369.68 L720.5,369.61 L720,369.54 L719.5,369.48 L719,369.42 L718.5,369.36 L718,369.29 L717.5,369.23 L717,369.16 L716.5,369.1 L716,369.04 L715.5,368.97 L715,368.91 L714.5,368.84 L714,368.78 L713.5,368.71 L713,368.65 L712.5,368.58 L712,368.52 L711.5,368.45 L711,368.39 L710.5,368.32 L710,368.26 L709.5,368.19 L709,368.13 L708.5,368.07 L708,368 L707.5,367.94 L707,367.88 L706.5,367.82 L706,367.76 L705.5,367.7 L705,367.64 L704.5,367.58 L704,367.52 L703.5,367.46 L703,367.41 L702.5,367.35 L702,367.29 L701.5,367.24 L701,367.19 L700.5,367.13 L700,367.08 L699.5,367.03 L699,366.98 L698.5,366.93 L698,366.88 L697.5,366.83 L697,366.78 L696.5,366.73 L696,366.68 L695.5,366.63 L695,366.58 L694.5,366.53 L694,366.48 L693.5,366.43 L693,366.39 L692.5,366.34 L692,366.29 L691.5,366.24 L691,366.19 L690.5,366.14 L690,366.1 L689.5,366.05 L689,366 L688.5,365.95 L688,365.91 L687.5,365.86 L687,365.81 L686.5,365.77 L686,365.72 L685.5,365.68 L685,365.63 L684.5,365.59 L684,365.54 L683.5,365.5 L683,365.45 L682.5,365.41 L682,365.37 L681.5,365.32 L681,365.28 L680.5,365.24 L680,365.2 L679.5,365.15 L679,365.11 L678.5,365.07 L678,365.03 L677.5,364.99 L677,364.95 L676.5,364.91 L676,364.87 L675.5,364.83 L675,364.79 L674.5,364.76 L674,364.72 L673.5,364.68 L673,364.65 L672.5,364.61 L672,364.57 L671.5,364.54 L671,364.5 L670.5,364.47 L670,364.44 L669.5,364.4 L669,364.37 L668.5,364.34 L668,364.31 L667.5,364.28 L667,364.25 L666.5,364.22 L666,364.19 L665.5,364.16 L665,364.13 L664.5,364.1 L664,364.07 L663.5,364.05 L663,364.02 L662.5,364 L662,363.97 L661.5,363.95 L661,363.92 L660.5,363.9 L660,363.88 L659.5,363.86 L659,363.84 L658.5,363.81 L658,363.79 L657.5,363.77 L657,363.76 L656.5,363.74 L656,363.72 L655.5,363.7 L655,363.68 L654.5,363.66 L654,363.64 L653.5,363.63 L653,363.61 L652.5,363.59 L652,363.58 L651.5,363.56 L651,363.54 L650.5,363.52 L650,363.51 L649.5,363.49 L649,363.47 L648.5,363.46 L648,363.44 L647.5,363.42 L647,363.41 L646.5,363.39 L646,363.37 L645.5,363.35 L645,363.34 L644.5,363.32 L644,363.3 L643.5,363.28 L643,363.26 L642.5,363.24 L642,363.22 L641.5,363.2 L641,363.18 L640.5,363.16 L640,363.14 L639.5,363.11 L639,363.08 L638.5,363.04 L638,363.01 L637.5,362.98 L637,362.95 L636.5,362.91 L636,362.88 L635.5,362.84 L635,362.81 L634.5,362.77 L634,362.73 L633.5,362.7 L633,362.66 L632.5,362.62 L632,362.58 L631.5,362.55 L631,362.51 L630.5,362.47 L630,362.43 L629.5,362.39 L629,362.35 L628.5,362.31 L628,362.26 L627.5,362.22 L627,362.17 L626.5,362.13 L626,362.08 L625.5,362.04 L625,361.99 L624.5,361.94 L624,361.89 L623.5,361.83 L623,361.78 L622.5,361.72 L622,361.67 L621.5,361.61 L621,361.55 L620.5,361.49 L620,361.42 L619.5,361.36 L619,361.29 L618.5,361.22 L618,361.15 L617.5,361.08 L617,361 L616.5,360.93 L616,360.85 L615.5,360.77 L615,360.68 L614.5,360.58 L614,360.43 L613.5,360.26 L613,360.06 L612.5,359.85 L612,359.63 L611.5,359.4 L611,359.18 L610.5,358.96 L610,358.77 L609.5,358.6 L609,358.46 L608.5,358.36 L608,358.3 L607.5,358.27 L607,358.24 L606.5,358.21 L606,358.18 L605.5,358.15 L605,358.13 L604.5,358.1 L604,358.08 L603.5,358.06 L603,358.04 L602.5,358.02 L602,358 L601.5,357.99 L601,357.97 L600.5,357.96 L600,357.95 L599.5,357.95 L599,357.95 L598.5,357.96 L598,357.96 L597.5,357.97 L597,357.97 L596.5,357.98 L596,357.99 L595.5,357.99 L595,358 L594.5,358.01 L594,358.01 L593.5,358.02 L593,358.03 L592.5,358.03 L592,358.04 L591.5,358.04 L591,358.05 L590.5,358.05 L590,358.05 L589.5,358.05 L589,358.04 L588.5,358.04 L588,358.02 L587.5,358.01 L587,358 L586.5,357.98 L586,357.97 L585.5,357.95 L585,357.93 L584.5,357.92 L584,357.9 L583.5,357.89 L583,357.88 L582.5,357.86 L582,357.86 L581.5,357.85 L581,357.85 L580.5,357.85 L580,357.87 L579.5,357.89 L579,357.91 L578.5,357.94 L578,357.98 L577.5,358.02 L577,358.06 L576.5,358.11 L576,358.16 L575.5,358.2 L575,358.25 L574.5,358.3 L574,358.37 L573.5,358.46 L573,358.55 L572.5,358.65 L572,358.76 L571.5,358.88 L571,359 L570.5,359.12 L570,359.24 L569.5,359.36 L569,359.48 L568.5,359.59 L568,359.69 L567.5,359.79 L567,359.87 L566.5,359.94 L566,359.99 L565.5,360.03 L565,360.05 L564.5,360.06 L564,360.07 L563.5,360.08 L563,360.08 L562.5,360.09 L562,360.1 L561.5,360.11 L561,360.11 L560.5,360.12 L560,360.12 L559.5,360.13 L559,360.13 L558.5,360.14 L558,360.14 L557.5,360.14 L557,360.15 L556.5,360.15 L556,360.15 L555.5,360.15 L555,360.15 L554.5,360.14 L554,360.11 L553.5,360.06 L553,360 L552.5,359.93 L552,359.84 L551.5,359.75 L551,359.65 L550.5,359.55 L550,359.45 L549.5,359.35 L549,359.25 L548.5,359.15 L548,359.04 L547.5,358.93 L547,358.81 L546.5,358.68 L546,358.55 L545.5,358.41 L545,358.27 L544.5,358.12 L544,357.97 L543.5,357.81 L543,357.65 Z" fill="#000" stroke="#000" stroke-width="0.3"/>
<text x="513.5" y="305" font-size="12" text-anchor="middle" fill="#7a7a7a" stroke="#7a7a7a" stroke-width="0.28">light</text>
<text x="513.7" y="320.3" font-size="12" text-anchor="middle" fill="#7a7a7a" stroke="#7a7a7a" stroke-width="0.28">off</text>
<path d="M518.9,325 L535.5,341.8" stroke="#7a7a7e" stroke-width="1.8"/><path d="M539.5,345.6 L528.5,341.5 L535,335.5 Z" fill="#7a7a7e"/>
<text x="566.4" y="453" font-size="12" text-anchor="middle" fill="#7a7a7a" stroke="#7a7a7a" stroke-width="0.28">light</text>
<text x="566.6" y="468.4" font-size="12" text-anchor="middle" fill="#7a7a7a" stroke="#7a7a7a" stroke-width="0.28">on</text>
<path d="M566.3,473.8 L551.5,486.5" stroke="#7a7a7e" stroke-width="1.8"/><path d="M547.5,490 L551.5,479.5 L557.5,486.5 Z" fill="#7a7a7e"/>
<text x="450" y="504.1" font-size="10.3" text-anchor="end" fill="#333" textLength="20.3" lengthAdjust="spacingAndGlyphs" stroke="#333" stroke-width="0.28">0.00</text>
<text x="450" y="463.3" font-size="10.3" text-anchor="end" fill="#333" textLength="20.3" lengthAdjust="spacingAndGlyphs" stroke="#333" stroke-width="0.28">0.02</text>
<text x="450" y="422.5" font-size="10.3" text-anchor="end" fill="#333" textLength="20.3" lengthAdjust="spacingAndGlyphs" stroke="#333" stroke-width="0.28">0.04</text>
<text x="450" y="381.7" font-size="10.3" text-anchor="end" fill="#333" textLength="20.3" lengthAdjust="spacingAndGlyphs" stroke="#333" stroke-width="0.28">0.06</text>
<text x="450" y="340.9" font-size="10.3" text-anchor="end" fill="#333" textLength="20.3" lengthAdjust="spacingAndGlyphs" stroke="#333" stroke-width="0.28">0.08</text>
<text x="450" y="300.1" font-size="10.3" text-anchor="end" fill="#333" textLength="20.3" lengthAdjust="spacingAndGlyphs" stroke="#333" stroke-width="0.28">0.10</text>
<text x="455.3" y="539.8" font-size="10.3" text-anchor="middle" fill="#333" stroke="#333" stroke-width="0.28">0</text>
<text x="527.5" y="539.8" font-size="10.3" text-anchor="middle" fill="#333" stroke="#333" stroke-width="0.28">5</text>
<text x="599.7" y="539.8" font-size="10.3" text-anchor="middle" fill="#333" stroke="#333" stroke-width="0.28">10</text>
<text x="671.9" y="539.8" font-size="10.3" text-anchor="middle" fill="#333" stroke="#333" stroke-width="0.28">15</text>
<text x="744.1" y="539.8" font-size="10.3" text-anchor="middle" fill="#333" stroke="#333" stroke-width="0.28">20</text>
<text x="582" y="558" font-size="12.8" fill="#222" textLength="74" lengthAdjust="spacingAndGlyphs" stroke="#222" stroke-width="0.28">Time (hours)</text>
<text transform="translate(419.2,489) rotate(-90)" font-size="13" fill="#222" textLength="161" lengthAdjust="spacingAndGlyphs" stroke="#222" stroke-width="0.28">Current Density (mA/cm<tspan font-size="9" dy="-7.5">2</tspan><tspan dy="7.5">)</tspan></text>
<text transform="translate(403.3,301.6) scale(0.9,1)" font-size="16.5" font-weight="bold" fill="#111">(d)</text>
</svg></body></html>
